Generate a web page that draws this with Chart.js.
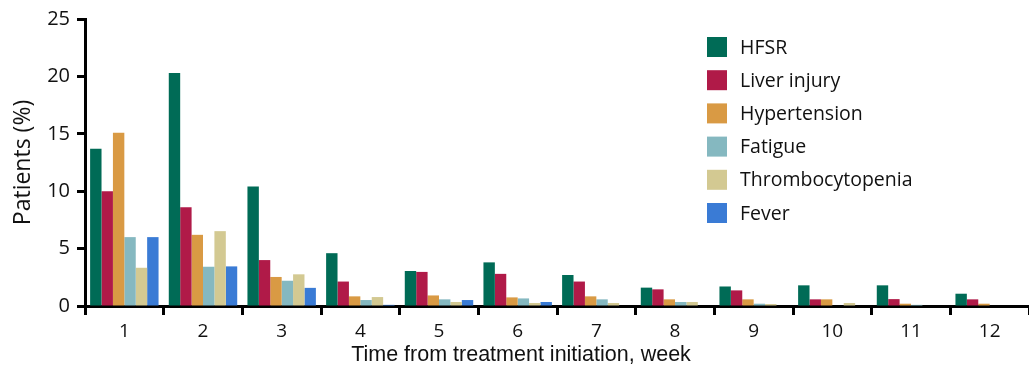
<!DOCTYPE html>
<html>
<head>
<meta charset="utf-8">
<script src="https://cdn.jsdelivr.net/npm/chart.js@4"></script>
<style>
  html, body { margin: 0; padding: 0; background: #fff; }
  #wrap { width: 1029px; height: 375px; position: relative; }
</style>
</head>
<body>
<div id="wrap"><canvas id="chart"></canvas></div>
<script>
const weeks = ["1", "2", "3", "4", "5", "6", "7", "8", "9", "10", "11", "12"];
const seriesNames = ["HFSR", "Liver injury", "Hypertension", "Fatigue", "Thrombocytopenia", "Fever"];
const hfsr = [13.7, 20.3, 10.4, 4.6, 3.05, 3.8, 2.7, 1.6, 1.7, 1.8, 1.8, 1.07];
const liverInjury = [10.0, 8.6, 4.0, 2.13, 2.97, 2.8, 2.13, 1.45, 1.36, 0.58, 0.6, 0.58];
const hypertension = [15.1, 6.2, 2.53, 0.84, 0.92, 0.75, 0.84, 0.58, 0.58, 0.58, 0.2, 0.2];
const fatigue = [6.0, 3.42, 2.2, 0.52, 0.58, 0.66, 0.58, 0.35, 0.2, 0, 0.1, 0];
const thrombocytopenia = [3.33, 6.52, 2.76, 0.78, 0.35, 0.26, 0.26, 0.35, 0.17, 0.26, 0, 0];
const fever = [6.0, 3.45, 1.58, 0.1, 0.52, 0.35, 0, 0, 0, 0, 0, 0];
const yTicks = [0, 5, 10, 15, 20, 25];
const xTitle = "Time from treatment initiation, week";

const colors = ["#006b56", "#b01a48", "#d99a44", "#85b8c0", "#d3c992", "#3a7bd5"];
const values = [hfsr, liverInjury, hypertension, fatigue, thrombocytopenia, fever];

// legend inside the plot (top right) + x title, which sits a bit left of centre
const extras = {
  id: "extras",
  afterDraw(chart) {
    const ctx = chart.ctx;
    ctx.save();
    ctx.font = "19.5px 'Open Sans', sans-serif";
    ctx.textBaseline = "middle";
    chart.data.datasets.forEach((ds, i) => {
      const y = 47 + i * 33.2;
      ctx.fillStyle = ds.backgroundColor;
      ctx.fillRect(707, y - 10, 20, 20);
      ctx.fillStyle = "#111";
      ctx.fillText(ds.label, 740, y + 1);
    });
    ctx.font = "21.5px 'Liberation Sans', Arial, sans-serif";
    ctx.textAlign = "center";
    ctx.fillText(xTitle, 521, 355);
    ctx.restore();
  }
};

new Chart(document.getElementById("chart"), {
  type: "bar",
  data: {
    labels: weeks,
    datasets: seriesNames.map((name, i) => ({
      label: name,
      data: values[i],
      backgroundColor: colors[i],
      borderWidth: 0,
      barPercentage: 1.0,
      categoryPercentage: 0.87
    }))
  },
  options: {
    responsive: true,
    maintainAspectRatio: false,
    animation: false,
    layout: { padding: { top: 16, right: 0, left: 0, bottom: 0 } },
    plugins: {
      legend: { display: false },
      tooltip: { enabled: false }
    },
    scales: {
      x: {
        afterFit: (s) => { s.height = 69; },
        grid: {
          offset: true,
          drawOnChartArea: false,
          drawTicks: true,
          tickLength: 9,
          tickWidth: 3,
          tickColor: "#000"
        },
        border: { color: "#000", width: 3 },
        ticks: {
          color: "#111",
          padding: 5,
          font: { family: "'Open Sans', sans-serif", size: 19 }
        }
      },
      y: {
        min: 0,
        max: 25,
        afterFit: (s) => { s.width = 85; },
        afterBuildTicks: (s) => { s.ticks = yTicks.map((v) => ({ value: v })); },
        grid: {
          drawOnChartArea: false,
          drawTicks: true,
          tickLength: 8,
          tickWidth: 3,
          tickColor: "#000"
        },
        border: { color: "#000", width: 3 },
        ticks: {
          color: "#111",
          padding: 7,
          font: { family: "'Open Sans', sans-serif", size: 20 }
        },
        title: {
          display: true,
          text: "Patients (%)",
          color: "#111",
          font: { family: "'Open Sans', sans-serif", size: 23 },
          padding: { top: 10, bottom: 0 }
        }
      }
    }
  },
  plugins: [extras]
});
</script>
</body>
</html>
